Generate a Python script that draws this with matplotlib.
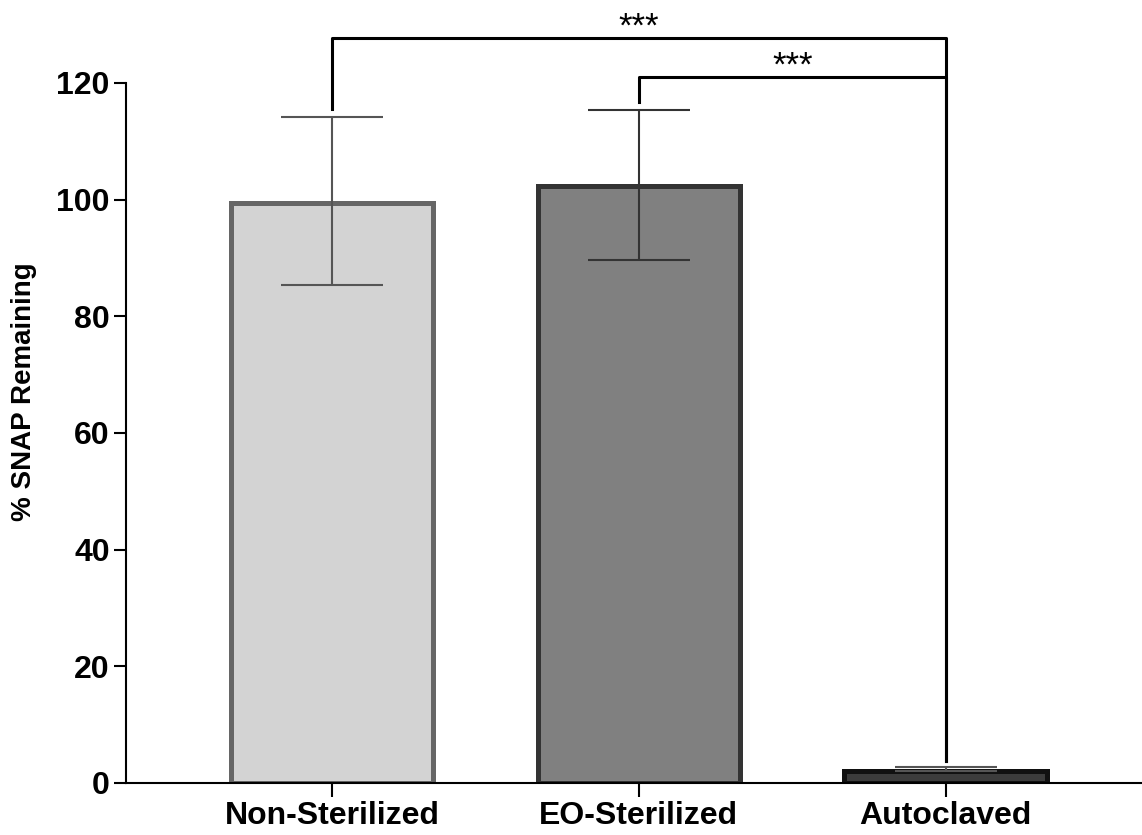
import matplotlib.pyplot as plt

plt.rcParams["font.family"] = ["Liberation Sans", "DejaVu Sans"]
plt.rcParams["font.weight"] = "bold"

# Data
groups = ["Non-Sterilized", "EO-Sterilized", "Autoclaved"]
means = [99.5, 102.3, 2.0]
err_low = [14.1, 12.6, 0.0]
err_high = [14.7, 13.1, 0.7]
fills = ["#d3d3d3", "#808080", "#3c3c3c"]
edges = ["#666666", "#333333", "#111111"]
err_colors = ["#555555", "#333333", "#555555"]

# Significance brackets: (left group, right group, height, star label)
brackets = [(0, 2, 127.7, "***"), (1, 2, 121.0, "***")]


def main():
    fig = plt.figure(figsize=(11.42, 8.35), dpi=100)
    ax = fig.add_axes([0.110, 0.0623, 0.89, 0.8383])

    x = list(range(len(groups)))
    ax.bar(x, means, width=0.66, color=fills, edgecolor=edges, linewidth=3.6, zorder=2)

    # Error bars drawn per group so each gets its own colour
    for i in x:
        ax.errorbar(i, means[i], yerr=[[err_low[i]], [err_high[i]]], fmt="none",
                    ecolor=err_colors[i], elinewidth=1.5, capsize=37, capthick=1.5, zorder=3)

    # Significance brackets above the bars
    tops = [m + h for m, h in zip(means, err_high)]
    for left, right, height, label in brackets:
        ax.plot([left, left, right, right],
                [tops[left] + 1.3, height, height, tops[right] + 1.0],
                color="black", linewidth=2.2, clip_on=False, zorder=4)
        ax.text((left + right) / 2, height - 1.0, label, ha="center", va="bottom",
                fontsize=25, fontweight="normal", clip_on=False)

    ax.set_xlim(-0.673, 2.64)
    ax.set_ylim(0, 120)
    ax.set_yticks([0, 20, 40, 60, 80, 100, 120])
    ax.set_xticks(x)
    ax.set_xticklabels(groups)
    ax.set_ylabel("% SNAP Remaining", fontsize=20, fontweight="bold")
    ax.yaxis.set_label_coords(-0.087, 0.559)

    ax.spines["top"].set_visible(False)
    ax.spines["right"].set_visible(False)
    ax.spines["left"].set_linewidth(1.5)
    ax.spines["bottom"].set_linewidth(1.5)
    ax.tick_params(axis="y", length=8.5, width=1.5, labelsize=23, pad=3)
    ax.tick_params(axis="x", length=10, width=1.5, labelsize=23, pad=3)

    fig.savefig("out.png", dpi=100)
    plt.close(fig)


if __name__ == "__main__":
    main()
